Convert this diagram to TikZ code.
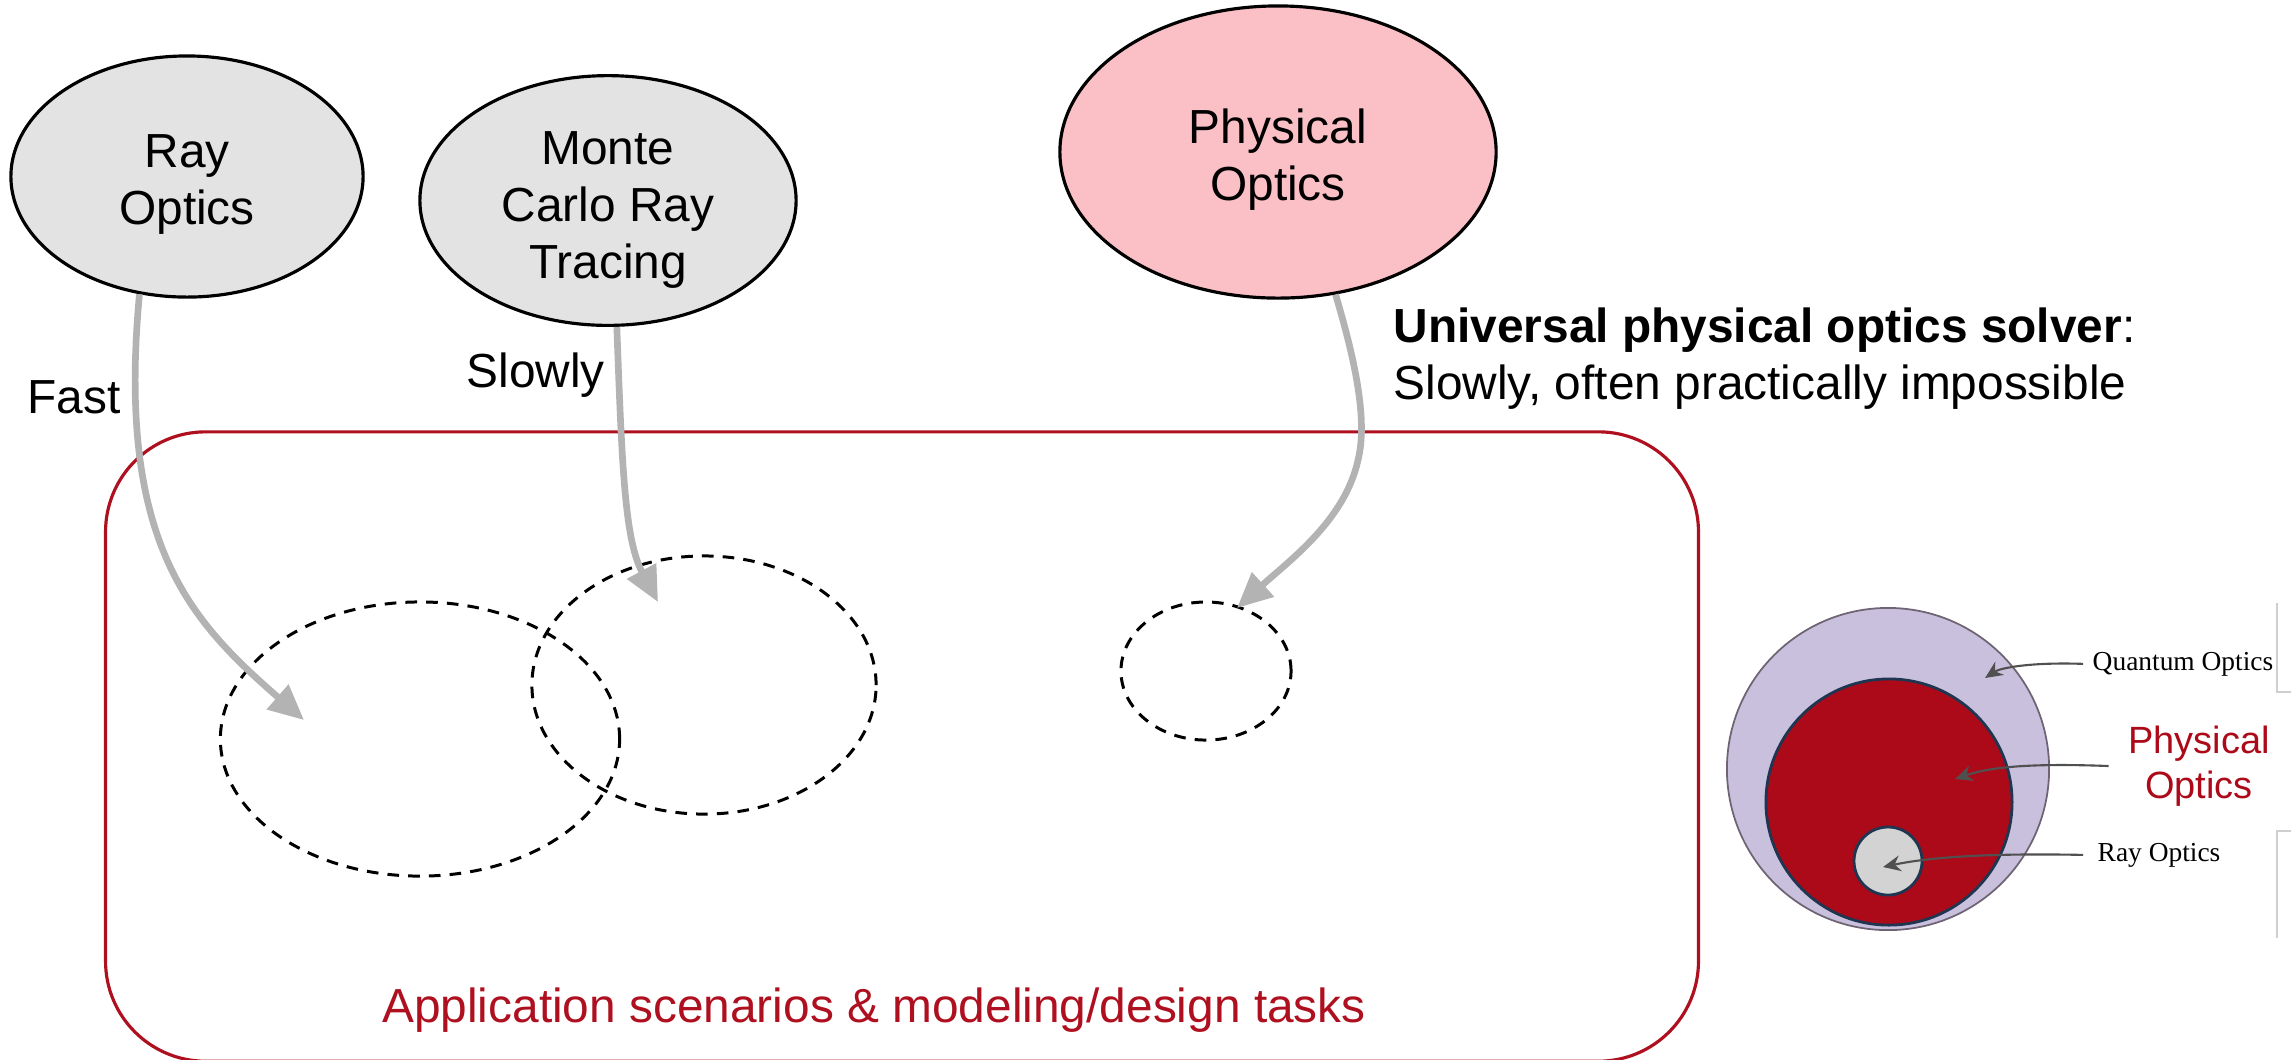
\documentclass[tikz,border=0pt]{standalone}
\usepackage{fontspec}
\setmainfont{Liberation Sans}
\newfontfamily\seriffont{Liberation Serif}
\usetikzlibrary{shapes.geometric,arrows.meta}

\definecolor{bubblegray}{HTML}{E3E3E3}
\definecolor{bubblepink}{HTML}{FBC0C6}
\definecolor{flowgray}{HTML}{B3B3B3}
\definecolor{taskred}{HTML}{AF1020}
\definecolor{qolavender}{HTML}{C9C0DD}
\definecolor{qoedge}{HTML}{6E6474}
\definecolor{pored}{HTML}{AD0A19}
\definecolor{navyedge}{HTML}{1F3550}
\definecolor{rogray}{HTML}{D3D3D3}
\definecolor{pointer}{HTML}{505050}
\definecolor{bracketgray}{HTML}{CFCFCF}

\begin{document}
\begin{tikzpicture}[x=0.01cm,y=-0.01cm,
  every node/.style={inner sep=0pt},
  bigfont/.style={font=\fontsize{13.6}{16.2}\selectfont},
  topic/.style={ellipse,draw=black,line width=0.9pt,align=center,bigfont},
  scenario/.style={ellipse,draw=black,line width=0.85pt,dash pattern=on 3.3pt off 2.6pt},
  flow/.style={draw=flowgray,line width=1.9pt,-{Triangle[length=10pt,width=9pt]}},
  note/.style={bigfont,anchor=base west},
  pointerline/.style={draw=pointer,line width=0.6pt,-{Stealth[length=5pt,width=4.5pt]}},
  insetlabel/.style={font=\seriffont\fontsize{7.8}{9}\selectfont,anchor=base west},
]
\useasboundingbox (0,0) rectangle (2291,1059);
\clip (0,0) rectangle (2291,1059);

% task frame
\node[draw=taskred,line width=0.9pt,rounded corners=1cm,
      minimum width=15.92cm,minimum height=6.29cm] (tasks) at (902,746.5) {};
\node[bigfont,text=taskred,anchor=base] (taskslabel) at (874,1022)
  {Application scenarios \& modeling/design tasks};

% modelling approaches (struts on the first line lower the text a little)
\node[topic,fill=bubblegray,minimum width=3.52cm,minimum height=2.41cm]
  (ray) at (187,176.5) {\rule{0pt}{14.0pt}Ray\\Optics};
\node[topic,fill=bubblegray,minimum width=3.76cm,minimum height=2.49cm]
  (mc) at (608,200.5) {\rule{0pt}{15.0pt}Monte\\Carlo Ray\\Tracing};
\node[topic,fill=bubblepink,minimum width=4.36cm,minimum height=2.92cm]
  (phys) at (1278,152) {\rule{0pt}{14.3pt}Physical\\Optics};

% application scenarios
\node[scenario,minimum width=3.99cm,minimum height=2.74cm] (scA) at (420,739) {};
\node[scenario,minimum width=3.44cm,minimum height=2.58cm] (scB) at (704,685) {};
\node[scenario,minimum width=1.70cm,minimum height=1.38cm] (scC) at (1206,671) {};

\coordinate (tipA) at (304,720);
\coordinate (tipB) at (658,602);
\coordinate (tipC) at (1237,608);

% speed labels
\node[note] (fast) at (27,413) {Fast};
\node[note] (slow) at (466,387) {Slowly};
\node[note] (solver) at (1393,342) {\textbf{Universal physical optics solver}:};
\node[note] (solver2) at (1393,399) {Slowly, often practically impossible};

% connectors
\draw[flow] (ray.-112) .. controls (116,545) and (192,622) .. (tipA);
\draw[flow] (mc.-86) .. controls (622,470) and (625,540) .. (tipB);
\draw[flow] (phys.-68) .. controls (1355,360) and (1368,420) .. (1358,460)
  .. controls (1345,520) and (1290,560) .. (tipC);

% nested domains of optics
\node[circle,fill=qolavender,draw=qoedge,line width=0.5pt,minimum size=3.22cm] (qo) at (1888,769) {};
\node[circle,fill=pored,draw=navyedge,line width=0.8pt,minimum size=2.46cm] (po) at (1889,802) {};
\node[circle,fill=rogray,draw=navyedge,line width=0.8pt,minimum size=0.68cm] (ro) at (1888,861) {};

\coordinate (qotip) at (1985,678);
\coordinate (potip) at (1955,779);
\coordinate (rotip) at (1883,867);

\node[insetlabel,inner xsep=0.09cm] (qolabel) at (2083,670) {Quantum Optics};
\node[font=\fontsize{10.8}{12.8}\selectfont,text=pored,align=center,inner xsep=0.19cm]
  (polabel) at (2199,766) {Physical\\Optics};
\node[insetlabel,inner xsep=0.14cm] (rolabel) at (2083,861) {Ray Optics};

\draw[pointerline] (qolabel.west) .. controls (2030,662) and (2000,668) .. (qotip);
\draw[pointerline] (polabel.west) .. controls (2030,763) and (1990,767) .. (potip);
\draw[pointerline] (rolabel.west) .. controls (1990,853) and (1930,857) .. (rotip);

% bracket marks at the edge
\draw[bracketgray,line width=0.5pt] (2291,692) -- (2277,692) -- (2277,603);
\draw[bracketgray,line width=0.5pt] (2291,831) -- (2277,831) -- (2277,938);
\end{tikzpicture}
\end{document}
